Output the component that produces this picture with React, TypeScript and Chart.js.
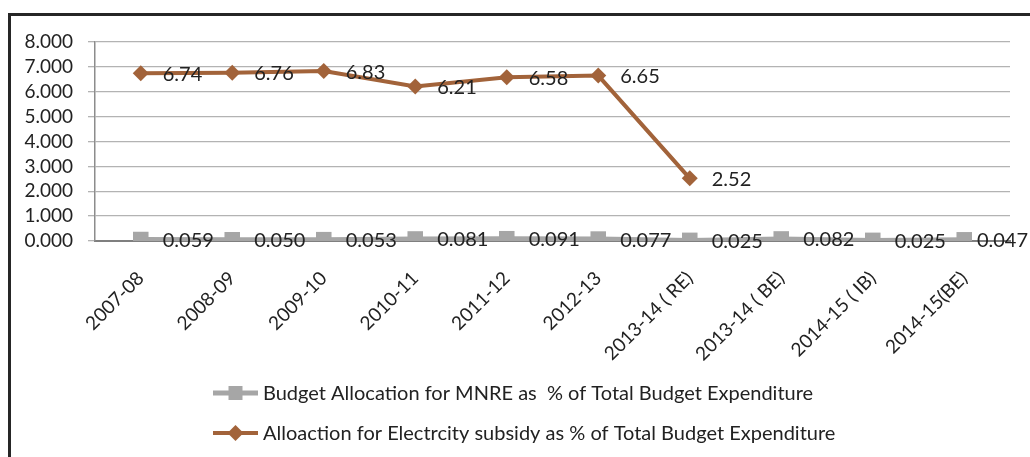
import React, { useEffect, useRef } from "react";
import { Chart, registerables } from "chart.js";

Chart.register(...registerables);

const categories = [
  "2007-08",
  "2008-09",
  "2009-10",
  "2010-11",
  "2011-12",
  "2012-13",
  "2013-14 ( RE)",
  "2013-14 ( BE)",
  "2014-15 ( IB)",
  "2014-15(BE)",
];
const mnreValues = [0.059, 0.05, 0.053, 0.081, 0.091, 0.077, 0.025, 0.082, 0.025, 0.047];
const subsidyValues = [6.74, 6.76, 6.83, 6.21, 6.58, 6.65, 2.52, null, null, null];
const mnreName = "Budget Allocation for MNRE as  % of Total Budget Expenditure";
const subsidyName = "Alloaction for Electrcity subsidy as % of Total Budget Expenditure";
const yMin = 0;
const yMax = 8;
const yStep = 1;

const GRAY = "#A6A6A6";
const BROWN = "#A2633A";
const TEXT = "#222222";
const FONT = "Lato, 'Open Sans', sans-serif";

const dataLabelPlugin = {
  id: "dataLabels",
  afterDatasetsDraw(chart: any) {
    const ctx = chart.ctx;
    ctx.save();
    ctx.font = `20px ${FONT}`;
    ctx.fillStyle = TEXT;
    ctx.textBaseline = "middle";
    ctx.textAlign = "left";
    chart.data.datasets.forEach((ds: any, di: number) => {
      const meta = chart.getDatasetMeta(di);
      meta.data.forEach((pt: any, i: number) => {
        const v = ds.data[i];
        if (v === null || v === undefined) return;
        const txt = ds.labelDigits === 3 ? v.toFixed(3) : v.toFixed(2);
        const w = ctx.measureText(txt).width;
        let x = pt.x + 22;
        if (x + w > chart.width - 2) x = chart.width - 2 - w;
        ctx.fillText(txt, x, pt.y + 1);
      });
    });
    ctx.restore();
  },
};

const legendPlugin = {
  id: "customLegend",
  afterDraw(chart: any) {
    const ctx = chart.ctx;
    const items = [
      { name: mnreName, color: GRAY, shape: "rect", lw: 5 },
      { name: subsidyName, color: BROWN, shape: "diamond", lw: 4 },
    ];
    const x0 = 213;
    const x1 = 258;
    const rows = [393, 433];
    ctx.save();
    items.forEach((it, i) => {
      const y = rows[i];
      ctx.strokeStyle = it.color;
      ctx.lineWidth = it.lw;
      ctx.beginPath();
      ctx.moveTo(x0, y);
      ctx.lineTo(x1, y);
      ctx.stroke();
      const cx = (x0 + x1) / 2;
      ctx.fillStyle = it.color;
      ctx.beginPath();
      if (it.shape === "rect") {
        ctx.rect(cx - 7, y - 7, 14, 14);
      } else {
        ctx.moveTo(cx, y - 8);
        ctx.lineTo(cx + 8, y);
        ctx.lineTo(cx, y + 8);
        ctx.lineTo(cx - 8, y);
        ctx.closePath();
      }
      ctx.fill();
      ctx.font = `20px ${FONT}`;
      ctx.fillStyle = TEXT;
      ctx.textBaseline = "middle";
      ctx.textAlign = "left";
      ctx.fillText(it.name, x1 + 5, y + 1);
    });
    ctx.restore();
  },
};

export default function App() {
  const ref = useRef<HTMLCanvasElement | null>(null);

  useEffect(() => {
    if (!ref.current) return;
    const chart = new Chart(ref.current, {
      type: "line",
      data: {
        labels: categories,
        datasets: [
          {
            label: mnreName,
            data: mnreValues,
            borderColor: GRAY,
            backgroundColor: GRAY,
            borderWidth: 5,
            pointStyle: "rect",
            pointRadius: 11,
            pointBorderWidth: 0,
            pointBackgroundColor: GRAY,
            tension: 0,
            labelDigits: 3,
          } as any,
          {
            label: subsidyName,
            data: subsidyValues,
            borderColor: BROWN,
            backgroundColor: BROWN,
            borderWidth: 4,
            pointStyle: "rectRot",
            pointRadius: 8,
            pointBorderWidth: 0,
            pointBackgroundColor: BROWN,
            tension: 0,
            spanGaps: false,
            labelDigits: 2,
          } as any,
        ],
      },
      options: {
        animation: false,
        responsive: false,
        layout: { padding: { top: 42, right: 20, bottom: 96, left: 0 } },
        plugins: {
          legend: { display: false },
          tooltip: { enabled: false },
        },
        scales: {
          x: {
            offset: true,
            grid: { display: false },
            border: { display: true, color: "#7F7F7F", width: 2 },
            ticks: {
              autoSkip: false,
              maxRotation: 45,
              minRotation: 45,
              padding: 18,
              color: TEXT,
              font: { size: 19, family: FONT },
            },
            afterFit(scale: any) {
              scale.height = 120;
            },
          },
          y: {
            min: yMin,
            max: yMax,
            ticks: {
              stepSize: yStep,
              autoSkip: false,
              padding: 15,
              color: TEXT,
              font: { size: 19, family: FONT },
              callback: (v: any) => Number(v).toFixed(3),
            },
            grid: { color: "#B3B3B3", lineWidth: 1.3, tickLength: 7 },
            border: { display: true, color: "#8C8C8C", width: 1.5 },
            afterFit(scale: any) {
              scale.width = 95;
            },
          },
        },
      },
      plugins: [dataLabelPlugin, legendPlugin],
    });
    return () => chart.destroy();
  }, []);

  return (
    <div
      style={{
        position: "fixed",
        left: 0,
        top: 0,
        width: 1030,
        height: 457,
        background: "#fff",
        overflow: "hidden",
      }}
    >
      <div
        style={{
          position: "absolute",
          left: 8,
          top: 13,
          right: -10,
          bottom: -10,
          borderTop: "3px solid #262626",
          borderLeft: "3px solid #262626",
        }}
      />
      <canvas
        ref={ref}
        width={1030}
        height={457}
        style={{ position: "absolute", left: 0, top: 0, width: 1030, height: 457 }}
      />
    </div>
  );
}
